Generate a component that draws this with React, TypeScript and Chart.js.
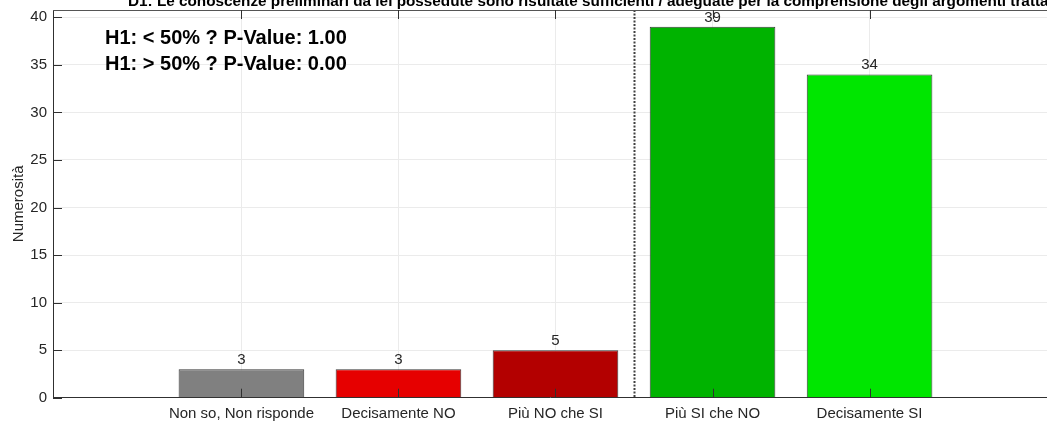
import React, { useEffect, useRef } from "react";
import { Chart, registerables } from "chart.js";

Chart.register(...registerables);

const TITLE =
  "D1: Le conoscenze preliminari da lei possedute sono risultate sufficienti / adeguate per la comprensione degli argomenti trattati";
const CATEGORIES = [
  "Non so, Non risponde",
  "Decisamente NO",
  "Più NO che SI",
  "Più SI che NO",
  "Decisamente SI",
];
const COUNTS = [3, 3, 5, 39, 34];
const BAR_COLORS = ["#808080", "#e60000", "#b30000", "#00b300", "#00e600"];
const Y_TICKS = [0, 5, 10, 15, 20, 25, 30, 35, 40];
const ANNOTATIONS = ["H1: < 50% ? P-Value: 1.00", "H1: > 50% ? P-Value: 0.00"];
const Y_LABEL = "Numerosità";
const DIVIDER_AT = 3.5;
const X_MIN = -0.2;
const X_MAX = 6.13;
const Y_MAX = 40.77;

const FONT = "'Liberation Sans', Arial, Helvetica, sans-serif";
const TEXT = "#262626";

const decorPlugin = {
  id: "decor",
  afterDatasetsDraw(chart: any) {
    const { ctx, chartArea } = chart;
    const xs = chart.scales.x;
    const ys = chart.scales.y;
    const { left, right, top, bottom } = chartArea;
    ctx.save();

    // dotted divider
    const dx = Math.round(xs.getPixelForValue(DIVIDER_AT)) + 0.5;
    ctx.strokeStyle = "#404040";
    ctx.lineWidth = 2;
    ctx.setLineDash([2, 1.5]);
    ctx.beginPath();
    ctx.moveTo(dx, top);
    ctx.lineTo(dx, bottom);
    ctx.stroke();
    ctx.setLineDash([]);

    // top border
    ctx.strokeStyle = "#555555";
    ctx.lineWidth = 1;
    ctx.beginPath();
    ctx.moveTo(left, top + 0.5);
    ctx.lineTo(right, top + 0.5);
    ctx.stroke();

    // inward ticks
    ctx.strokeStyle = "#303030";
    ctx.lineWidth = 1;
    ctx.beginPath();
    Y_TICKS.forEach((v) => {
      const y = Math.round(ys.getPixelForValue(v)) + 0.5;
      ctx.moveTo(left, y);
      ctx.lineTo(left + 9, y);
    });
    CATEGORIES.forEach((_, i) => {
      const x = Math.round(xs.getPixelForValue(i + 1)) + 0.5;
      ctx.moveTo(x, bottom);
      ctx.lineTo(x, bottom - 9);
      ctx.moveTo(x, top);
      ctx.lineTo(x, top + 9);
    });
    ctx.stroke();

    // value labels
    const meta = chart.getDatasetMeta(0);
    ctx.fillStyle = TEXT;
    ctx.font = `15px ${FONT}`;
    ctx.textAlign = "center";
    ctx.textBaseline = "alphabetic";
    meta.data.forEach((bar: any, i: number) => {
      ctx.fillText(String(COUNTS[i]), bar.x, bar.y - 5);
    });

    // annotations
    ctx.fillStyle = "#000000";
    ctx.font = `bold 20px ${FONT}`;
    ctx.textAlign = "left";
    ANNOTATIONS.forEach((t, i) => {
      ctx.fillText(t, left + 52, top + 34 + i * 25.5);
    });

    // y label
    ctx.save();
    ctx.translate(23, (top + bottom) / 2);
    ctx.rotate(-Math.PI / 2);
    ctx.fillStyle = TEXT;
    ctx.font = `15px ${FONT}`;
    ctx.textAlign = "center";
    ctx.textBaseline = "alphabetic";
    ctx.fillText(Y_LABEL, 0, 0);
    ctx.restore();

    // title (clipped at the top)
    ctx.fillStyle = "#000000";
    ctx.font = `bold 15.3px ${FONT}`;
    ctx.textAlign = "left";
    ctx.textBaseline = "alphabetic";
    ctx.fillText(TITLE, 128, 5.5);

    ctx.restore();
  },
};

export default function App() {
  const ref = useRef<HTMLCanvasElement | null>(null);
  useEffect(() => {
    if (!ref.current) return;
    const chart = new Chart(ref.current, {
      type: "bar",
      data: {
        datasets: [
          {
            data: COUNTS.map((v, i) => ({ x: i + 1, y: v })),
            backgroundColor: BAR_COLORS,
            borderColor: "#383838",
            borderWidth: 1,
            barPercentage: 1,
            categoryPercentage: 0.8,
          },
        ],
      },
      options: {
        responsive: false,
        animation: false,
        layout: { padding: { top: 10, left: 0, right: 0, bottom: 0 } },
        plugins: {
          legend: { display: false },
          title: { display: false },
          tooltip: { enabled: false },
        },
        scales: {
          x: {
            type: "linear",
            offset: false,
            min: X_MIN,
            max: X_MAX,
            afterBuildTicks: (s: any) => {
              s.ticks = CATEGORIES.map((_, i) => ({ value: i + 1 }));
            },
            afterFit: (s: any) => {
              s.height = 26.3;
              s.paddingLeft = 0;
              s.paddingRight = 0;
            },
            ticks: {
              autoSkip: false,
              maxRotation: 0,
              minRotation: 0,
              padding: 7,
              color: TEXT,
              font: { family: FONT, size: 15 },
              callback: (_v: any, i: number) => CATEGORIES[i],
            },
            grid: { color: "#ebebeb", drawTicks: false, tickLength: 0, offset: false },
            border: { display: true, color: "#303030", width: 1 },
          },
          y: {
            type: "linear",
            min: 0,
            max: Y_MAX,
            afterBuildTicks: (s: any) => {
              s.ticks = Y_TICKS.map((v) => ({ value: v }));
            },
            afterFit: (s: any) => {
              s.width = 53;
              s.paddingTop = 0;
              s.paddingBottom = 0;
            },
            ticks: {
              padding: 6,
              color: TEXT,
              font: { family: FONT, size: 15 },
              callback: (v: any) => String(v),
            },
            grid: { color: "#ebebeb", drawTicks: false, tickLength: 0 },
            border: { display: true, color: "#303030", width: 1 },
          },
        },
      },
      plugins: [decorPlugin],
    } as any);
    return () => chart.destroy();
  }, []);
  return (
    <div
      style={{
        position: "fixed",
        left: 0,
        top: 0,
        width: 1047,
        height: 424,
        background: "#ffffff",
        overflow: "hidden",
      }}
    >
      <canvas ref={ref} width={1047} height={424} style={{ display: "block" }} />
    </div>
  );
}
